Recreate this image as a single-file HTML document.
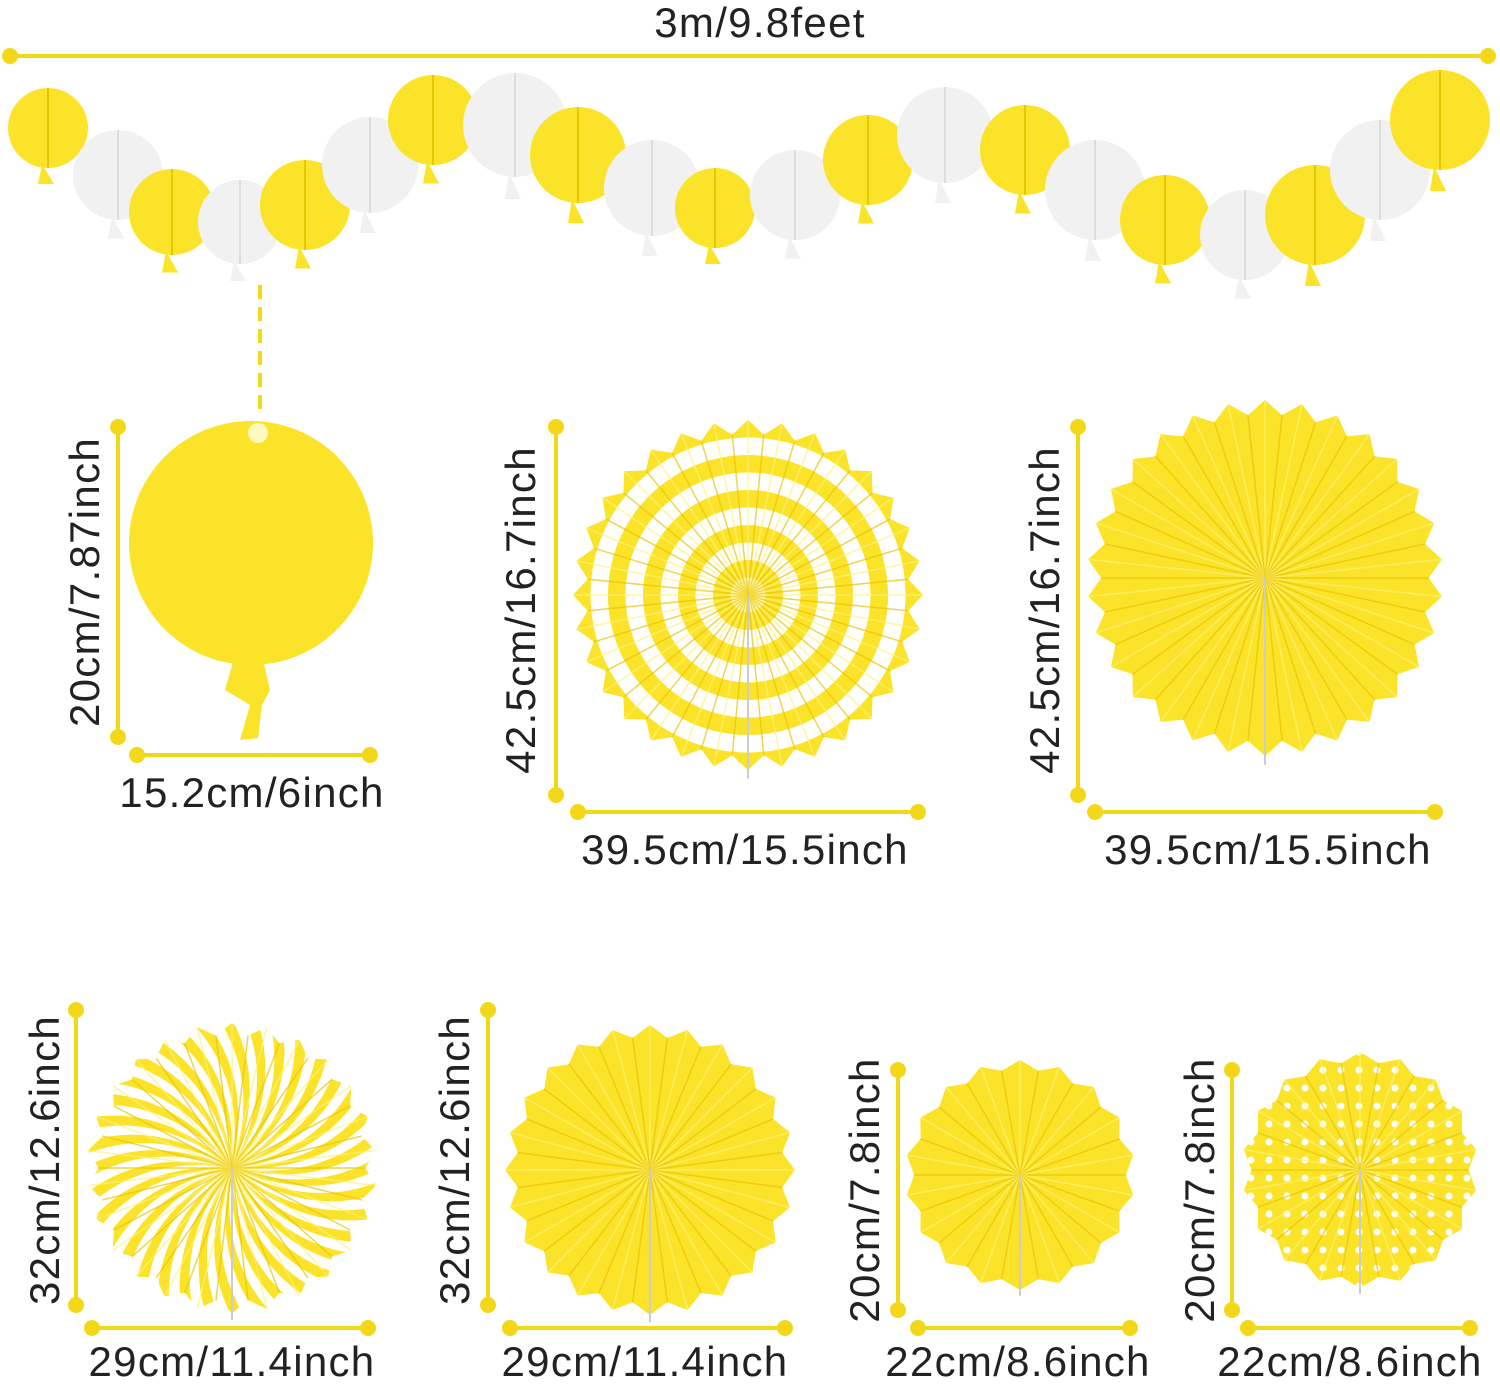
<!DOCTYPE html>
<html><head><meta charset="utf-8"><style>
html,body{margin:0;padding:0;background:#fff;width:1500px;height:1386px;overflow:hidden}
svg{display:block}
text{font-family:"Liberation Sans",sans-serif;font-size:42px;letter-spacing:1.3px;fill:#222}
</style></head><body>
<svg id="s" width="1500" height="1386" viewBox="0 0 1500 1386" xmlns="http://www.w3.org/2000/svg">
<defs></defs>
<g id="shapes"></g>
<g id="dims" stroke="#f3d81a" stroke-width="4" fill="#f3d81a">
<line x1="10" y1="56" x2="1488" y2="56"/><circle cx="10" cy="56" r="6"/><circle cx="1488" cy="56" r="6"/>
<line x1="260" y1="285" x2="260" y2="410" stroke-dasharray="14,8"/>
<line x1="118" y1="427" x2="118" y2="737"/><circle cx="118" cy="427" r="6"/><circle cx="118" cy="737" r="6"/>
<line x1="137" y1="755" x2="370" y2="755"/><circle cx="137" cy="755" r="6"/><circle cx="370" cy="755" r="6"/>
<line x1="556" y1="427" x2="556" y2="795"/><circle cx="556" cy="427" r="6"/><circle cx="556" cy="795" r="6"/>
<line x1="578" y1="812" x2="918" y2="812"/><circle cx="578" cy="812" r="6"/><circle cx="918" cy="812" r="6"/>
<line x1="1078" y1="427" x2="1078" y2="795"/><circle cx="1078" cy="427" r="6"/><circle cx="1078" cy="795" r="6"/>
<line x1="1095" y1="812" x2="1435" y2="812"/><circle cx="1095" cy="812" r="6"/><circle cx="1435" cy="812" r="6"/>
<line x1="76" y1="1010" x2="76" y2="1305"/><circle cx="76" cy="1010" r="6"/><circle cx="76" cy="1305" r="6"/>
<line x1="92" y1="1328" x2="368" y2="1328"/><circle cx="92" cy="1328" r="6"/><circle cx="368" cy="1328" r="6"/>
<line x1="488" y1="1010" x2="488" y2="1305"/><circle cx="488" cy="1010" r="6"/><circle cx="488" cy="1305" r="6"/>
<line x1="510" y1="1328" x2="785" y2="1328"/><circle cx="510" cy="1328" r="6"/><circle cx="785" cy="1328" r="6"/>
<line x1="898" y1="1070" x2="898" y2="1310"/><circle cx="898" cy="1070" r="6"/><circle cx="898" cy="1310" r="6"/>
<line x1="918" y1="1328" x2="1130" y2="1328"/><circle cx="918" cy="1328" r="6"/><circle cx="1130" cy="1328" r="6"/>
<line x1="1232" y1="1070" x2="1232" y2="1310"/><circle cx="1232" cy="1070" r="6"/><circle cx="1232" cy="1310" r="6"/>
<line x1="1248" y1="1328" x2="1470" y2="1328"/><circle cx="1248" cy="1328" r="6"/><circle cx="1470" cy="1328" r="6"/>
</g>
<g text-anchor="middle">
<text x="760" y="37">3m/9.8feet</text>
<text x="252" y="807">15.2cm/6inch</text>
<text x="745" y="864">39.5cm/15.5inch</text>
<text x="1268" y="864">39.5cm/15.5inch</text>
<text x="232" y="1376">29cm/11.4inch</text>
<text x="645" y="1376">29cm/11.4inch</text>
<text x="1018" y="1376">22cm/8.6inch</text>
<text x="1350" y="1376">22cm/8.6inch</text>
<text transform="translate(99,582) rotate(-90)">20cm/7.87inch</text>
<text transform="translate(535,610) rotate(-90)">42.5cm/16.7inch</text>
<text transform="translate(1059,610) rotate(-90)">42.5cm/16.7inch</text>
<text transform="translate(59,1160) rotate(-90)">32cm/12.6inch</text>
<text transform="translate(469,1160) rotate(-90)">32cm/12.6inch</text>
<text transform="translate(879,1190) rotate(-90)">20cm/7.8inch</text>
<text transform="translate(1214,1190) rotate(-90)">20cm/7.8inch</text>
</g>
</svg>
<script>
var NS="http://www.w3.org/2000/svg",G=document.getElementById("shapes"),D=document.querySelector("defs");
function el(t,a,p){var e=document.createElementNS(NS,t);for(var k in a)e.setAttribute(k,a[k]);(p||G).appendChild(e);return e;}
var Y="#fbe32a",W="#f1f1f1";
var balls=[[48,128,40,1],[118,175,45,0],[172,212,43,1],[240,222,42,0],[305,205,45,1],[370,165,48,0],[433,120,45,1],[515,125,52,0],[578,155,48,1],[652,188,48,0],[715,208,40,1],[795,195,45,0],[868,160,45,1],[945,135,48,0],[1025,150,45,1],[1095,190,50,0],[1165,220,45,1],[1245,235,45,0],[1315,215,50,1],[1380,170,50,0],[1440,120,50,1]];
balls.forEach(function(b){var c=b[3]?Y:W;
 el("path",{d:"M"+(b[0]-6)+" "+(b[1]+b[2]-4)+"l-4 "+(b[2]*0.5)+"l16 0z",fill:c});
 el("circle",{cx:b[0],cy:b[1],r:b[2],fill:c});
 el("line",{x1:b[0],y1:b[1]-b[2],x2:b[0],y2:b[1]+b[2],stroke:b[3]?"#e6c800":"#ddd","stroke-width":2});});
el("path",{d:"M235 655 L225 690 L250 705 L240 740 L258 738 L262 705 L270 690 L262 655z",fill:Y});
el("circle",{cx:251,cy:543,r:122,fill:Y});
el("circle",{cx:258,cy:433,r:10,fill:"#fff8c0"});
var fid=0;
function fan(cx,cy,r,n,type){
 fid++;var pts=[];for(var i=0;i<2*n;i++){var a=i*Math.PI/n,rr=i%2?r*0.92:r;pts.push((cx+rr*Math.sin(a)).toFixed(1)+","+(cy-rr*Math.cos(a)).toFixed(1));}
 var cp=el("clipPath",{id:"c"+fid},D);el("polygon",{points:pts.join(" ")},cp);
 var g=el("g",{"clip-path":"url(#c"+fid+")"});
 el("polygon",{points:pts.join(" "),fill:type==3?"#fff":Y},g);
 if(type==1){for(var k=10;k>0;k--){el("circle",{cx:cx,cy:cy,r:r*k/10,fill:k%2?"#fff":Y},g);} }
 if(type==3){var m=36;for(var j=0;j<m;j++){var a1=j*2*Math.PI/m,a2=(j+0.5)*2*Math.PI/m,R=r*1.2;
  el("path",{d:"M"+cx+" "+cy+" Q"+(cx+R*0.6*Math.sin(a1+0.5))+" "+(cy-R*0.6*Math.cos(a1+0.5))+" "+(cx+R*Math.sin(a1))+" "+(cy-R*Math.cos(a1))+" L"+(cx+R*Math.sin(a2))+" "+(cy-R*Math.cos(a2))+" Q"+(cx+R*0.6*Math.sin(a2+0.5))+" "+(cy-R*0.6*Math.cos(a2+0.5))+" "+cx+" "+cy+"z",fill:Y},g);}}
 if(type==2){for(var x=-r;x<r;x+=18)for(var y=-r;y<r;y+=18)el("circle",{cx:cx+x+((y/18)%2?9:0),cy:cy+y,r:3.5,fill:"#fff"},g);}
 for(var i=0;i<2*n;i++){var a=i*Math.PI/n;el("line",{x1:cx,y1:cy,x2:cx+r*Math.sin(a),y2:cy-r*Math.cos(a),stroke:i%2?"#e8c400":"#fff27a","stroke-width":1.5,opacity:0.7},g);}
 el("line",{x1:cx,y1:cy,x2:cx,y2:cy+r*1.05,stroke:"#ccc","stroke-width":2});
}
fan(748,595,175,32,1);
fan(1265,578,178,30,0);
fan(232,1168,145,26,3);
fan(650,1170,145,24,0);
fan(1020,1175,115,18,0);
fan(1360,1170,118,18,2);
</script>
</body></html>
